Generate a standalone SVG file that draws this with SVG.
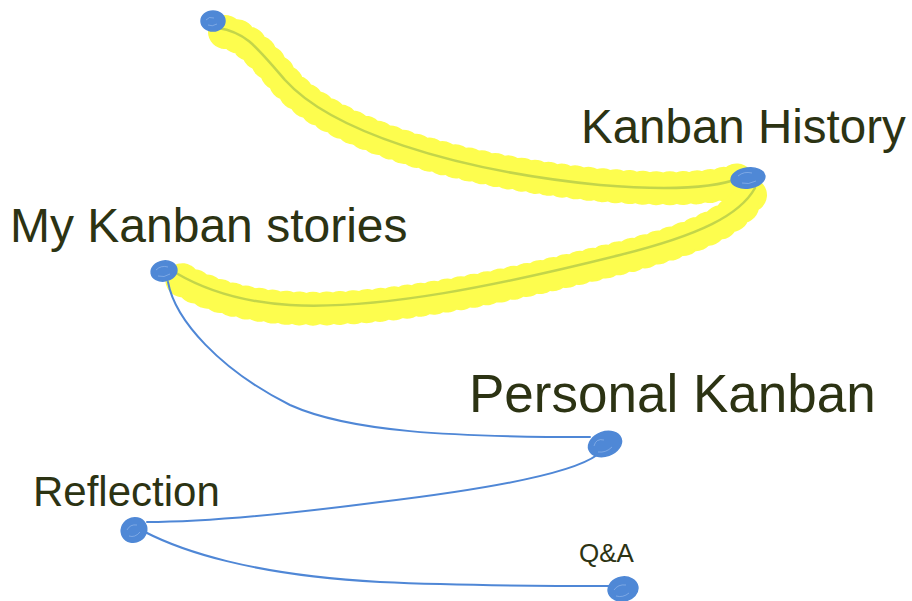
<svg xmlns="http://www.w3.org/2000/svg" width="912" height="601" viewBox="0 0 912 601">
<defs>
<style>
.lbl{font-family:"Liberation Sans",Arial,sans-serif;fill:#2c3313}
.band{fill:none;stroke:#fdfd4e;stroke-width:26;stroke-linecap:round;stroke-linejoin:round}
.scallop{fill:none;stroke:#fdfd4e;stroke-width:34;stroke-linecap:round;stroke-dasharray:0.5 13}
.scallop2{fill:none;stroke:#fdfd4e;stroke-width:31;stroke-linecap:round;stroke-dasharray:0.5 17;stroke-dashoffset:6}
.green{fill:none;stroke:#c3d54a;stroke-width:2.5;stroke-linecap:round}
.blue{fill:none;stroke:#4f87d6;stroke-width:2;stroke-linecap:round}
.dot{fill:#4f88d6;stroke:#4f88d6;stroke-width:1.5}
.tex{fill:none;stroke:#9fc0ee;stroke-width:0.8;opacity:0.7}
</style>
</defs>
<rect width="912" height="601" fill="#ffffff"/>
<g id="connectors">
<g id="c1">
<path class="band" d="M 225 32 C 245 36, 258 50, 288 85 C 335 133, 450 170, 600 185 C 660 190, 710 190, 738 180"/>
<path class="scallop" d="M 225 32 C 245 36, 258 50, 288 85 C 335 133, 450 170, 600 185 C 660 190, 710 190, 738 180"/>
<path class="scallop2" d="M 225 32 C 245 36, 258 50, 288 85 C 335 133, 450 170, 600 185 C 660 190, 710 190, 738 180"/>
<path class="green" d="M 218 28 C 245 32, 255 45, 285 80 C 330 130, 450 170, 600 185 C 660 190, 710 190, 740 178"/>
</g>
<g id="c2">
<path class="band" d="M 750 195 C 738 218, 700 238, 620 258 C 500 288, 380 313, 290 308 C 240 305, 205 293, 182 280"/>
<path class="scallop" d="M 750 195 C 738 218, 700 238, 620 258 C 500 288, 380 313, 290 308 C 240 305, 205 293, 182 280"/>
<path class="scallop2" d="M 750 195 C 738 218, 700 238, 620 258 C 500 288, 380 313, 290 308 C 240 305, 205 293, 182 280"/>
<path class="green" d="M 755 188 C 740 215, 700 235, 620 255 C 500 285, 380 310, 290 305 C 240 302, 205 290, 176 273"/>
</g>
<path class="blue" d="M 168 282 C 175 320, 220 370, 290 405 C 350 432, 450 437, 590 437"/>
<path class="blue" d="M 597 455 C 570 475, 480 490, 380 502 C 280 515, 200 522, 147 522"/>
<path class="blue" d="M 145 532 C 180 550, 250 575, 380 582 C 470 586, 560 586, 610 586"/>
</g>
<g id="node-root">
<ellipse class="dot" cx="213" cy="21" rx="12" ry="10"/>
<path class="tex" d="M 206 20 q 3 -4 8 -2 M 208 25 q 4 2 9 -1"/>
</g>
<g id="node-kanban-history">
<ellipse class="dot" cx="748" cy="178" rx="17" ry="10" transform="rotate(-8 748 178)"/>
<path class="tex" d="M 738 176 q 6 -5 14 -3 M 742 183 q 6 2 14 -2"/>
<text class="lbl" x="581" y="143" font-size="47.5">Kanban History</text>
</g>
<g id="node-my-kanban-stories">
<ellipse class="dot" cx="164" cy="271" rx="13" ry="10" transform="rotate(-10 164 271)"/>
<path class="tex" d="M 156 270 q 5 -5 12 -3 M 158 276 q 6 2 12 -2"/>
<text class="lbl" x="10" y="242" font-size="48">My Kanban stories</text>
</g>
<g id="node-personal-kanban">
<ellipse class="dot" cx="605" cy="444" rx="17" ry="12" transform="rotate(-20 605 444)"/>
<path class="tex" d="M 594 446 q 2 -8 10 -6 M 598 452 q 8 1 14 -5"/>
<text class="lbl" x="469" y="412" font-size="53">Personal Kanban</text>
</g>
<g id="node-reflection">
<ellipse class="dot" cx="134" cy="530" rx="13" ry="12" transform="rotate(-30 134 530)"/>
<path class="tex" d="M 127 530 q 3 -6 10 -5 M 129 536 q 6 2 11 -4"/>
<text class="lbl" x="33" y="506" font-size="42">Reflection</text>
</g>
<g id="node-qa">
<ellipse class="dot" cx="623" cy="589" rx="15" ry="12" transform="rotate(-10 623 589)"/>
<path class="tex" d="M 614 590 q 4 -6 12 -5 M 616 596 q 7 2 13 -3"/>
<text class="lbl" x="579" y="562" font-size="26">Q&amp;A</text>
</g>
</svg>
